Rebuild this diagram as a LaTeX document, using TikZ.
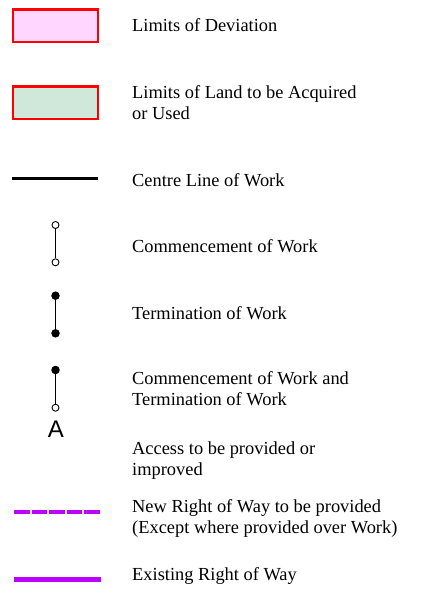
\documentclass[tikz,border=0pt]{standalone}
\usepackage{fontspec}
\setmainfont{Liberation Serif}
\newfontfamily\arialfont{Liberation Sans}
\definecolor{ldpink}{RGB}{255,214,255}
\definecolor{lgreen}{RGB}{208,232,218}
\definecolor{rowpurple}{RGB}{190,0,255}
\tikzset{
  legbox/.style={draw=red, line width=2.5pt},
  lbl/.style={anchor=base west, inner sep=0pt, font=\fontsize{18.4}{20.8}\selectfont, align=left},
  openend/.style={circle, draw=black, fill=white, line width=0.9pt, minimum size=7pt, inner sep=0pt},
  filledend/.style={circle, draw=black, fill=black, line width=0.9pt, minimum size=7.5pt, inner sep=0pt},
  workline/.style={line width=1pt, black},
}
\begin{document}
\begin{tikzpicture}[x=1pt,y=-1pt]
\useasboundingbox (0,0) rectangle (421,597);
% boxes
\draw[legbox, fill=ldpink] (13,9.5) rectangle (98,42);
\node[lbl] (t1) at (132,31) {Limits of Deviation};
\draw[legbox, fill=lgreen] (13,86.5) rectangle (98,119);
\node[lbl] (t2) at (132,119) {Limits of Land to be Acquired\\or Used};
% centre line
\coordinate (c1) at (12,178.3);
\coordinate (c2) at (98,178.3);
\draw[line width=3pt] (c1) -- (c2);
\node[lbl] (t3) at (132,186.7) {Centre Line of Work};
% commencement
\node[openend] (a1) at (55.5,225) {};
\node[openend] (a2) at (55.5,262.3) {};
\draw[workline] (a1) -- (a2);
\node[lbl] (t4) at (132,252.7) {Commencement of Work};
% termination
\node[filledend] (b1) at (55.5,295.7) {};
\node[filledend] (b2) at (55.5,333.3) {};
\draw[workline] (b1) -- (b2);
\node[lbl] (t5) at (132,319.3) {Termination of Work};
% commencement and termination
\node[filledend] (d1) at (55.5,370) {};
\node[openend] (d2) at (55.5,407.7) {};
\draw[workline] (d1) -- (d2);
\node[lbl] (t6) at (132,405.7) {Commencement of Work and\\Termination of Work};
% access
\node[inner sep=0pt, anchor=base, font=\arialfont\fontsize{24}{24}\selectfont] (acc) at (56,437) {A};
\node[lbl] (t7) at (132,475) {Access to be provided or\\improved};
% new right of way
\coordinate (n1) at (14,511.7);
\coordinate (n2) at (101,511.7);
\draw[rowpurple, line width=4pt, dash pattern=on 15.5pt off 2pt] (n1) -- (n2);
\node[lbl] (t8) at (132,533.7) {New Right of Way to be provided\\(Except where provided over Work)};
% existing right of way
\coordinate (e1) at (14,579.3);
\coordinate (e2) at (101,579.3);
\draw[rowpurple, line width=5pt] (e1) -- (e2);
\node[lbl] (t9) at (132,580.7) {Existing Right of Way};
\end{tikzpicture}
\end{document}
